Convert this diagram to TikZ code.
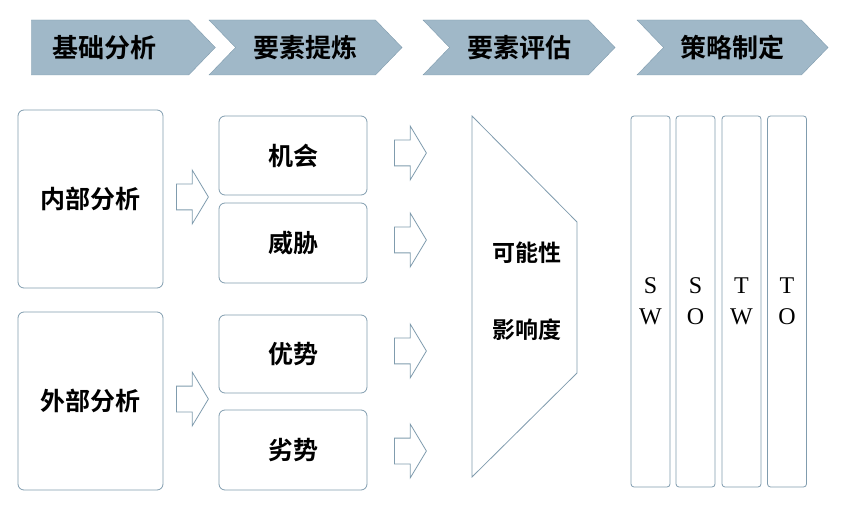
\documentclass[tikz,border=0pt]{standalone}
\usepackage{fontspec}
\setmainfont{Liberation Serif}
\newfontfamily\cjk[BoldFont={Noto Sans CJK SC Bold}]{Noto Sans CJK SC}
\usetikzlibrary{shapes}

\definecolor{steel}{RGB}{160,184,200}
\definecolor{edge}{RGB}{128,156,174}

\begin{document}
\begin{tikzpicture}[x=1pt,y=-1pt,
  phase/.style={shape=signal,draw=edge,fill=steel,signal to=east,
    signal pointer angle=92,minimum height=55pt,inner sep=0pt,
    font=\cjk\bfseries\fontsize{26}{30}\selectfont},
  box/.style={draw=edge,line width=0.8pt,rounded corners=6pt,
    font=\cjk\bfseries\fontsize{25}{29}\selectfont},
  blk/.style={shape=single arrow,draw=edge,line width=0.8pt,anchor=tail,
    inner xsep=0pt,inner ysep=12.5pt,minimum width=53pt,minimum height=32pt,
    single arrow head extend=14pt,single arrow tip angle=118},
  col/.style={draw=edge,line width=0.8pt,rounded corners=3pt,
    minimum width=39pt,minimum height=371pt,align=center,
    font=\fontsize{24}{31}\selectfont}]
  \useasboundingbox (0,0) rectangle (843,510);
  % phases
  \node[phase,minimum width=184pt] (P1) at (110,47.5) {基础分析\hspace*{12pt}};
  \node[phase,signal from=west,minimum width=193pt] (P2) at (305.5,47.5) {要素提炼};
  \node[phase,signal from=west,minimum width=192pt] (P3) at (519,47.5) {要素评估};
  \node[phase,signal from=west,minimum width=191pt] (P4) at (732.5,47.5) {策略制定};
  %%
  \node[box,minimum width=145pt,minimum height=178pt] (Inner) at (90.5,199) {内部分析};
  \node[box,minimum width=145pt,minimum height=178pt] (Outer) at (90.5,401) {外部分析};
  \node[blk] (A1) at (176,197) {};
  \node[blk] (A2) at (176,399) {};
  %%
  \node[box,minimum width=148pt,minimum height=79pt] (Opp) at (293,155.5) {机会};
  \node[box,minimum width=148pt,minimum height=80pt] (Thr) at (293,243) {威胁};
  \node[box,minimum width=148pt,minimum height=78pt] (Str) at (293,354) {优势};
  \node[box,minimum width=148pt,minimum height=80pt] (Wea) at (293,450) {劣势};
  \node[blk] (B1) at (394,153) {};
  \node[blk] (B2) at (394,240) {};
  \node[blk] (B3) at (394,351) {};
  \node[blk] (B4) at (394,451) {};
  %%
  \draw[edge,line width=0.8pt] (472,116) -- (577,222) -- (577,373) -- (472,477) -- cycle;
  \node[font=\cjk\bfseries\fontsize{23}{27}\selectfont] (Prob) at (527,253) {可能性};
  \node[font=\cjk\bfseries\fontsize{23}{27}\selectfont] (Imp) at (527,330) {影响度};
  %%
  \node[col] (SW) at (650.5,301.5) {S\\W};
  \node[col] (SO) at (695.5,301.5) {S\\O};
  \node[col] (TW) at (741.5,301.5) {T\\W};
  \node[col] (TO) at (787,301.5) {T\\O};
\end{tikzpicture}
\end{document}
